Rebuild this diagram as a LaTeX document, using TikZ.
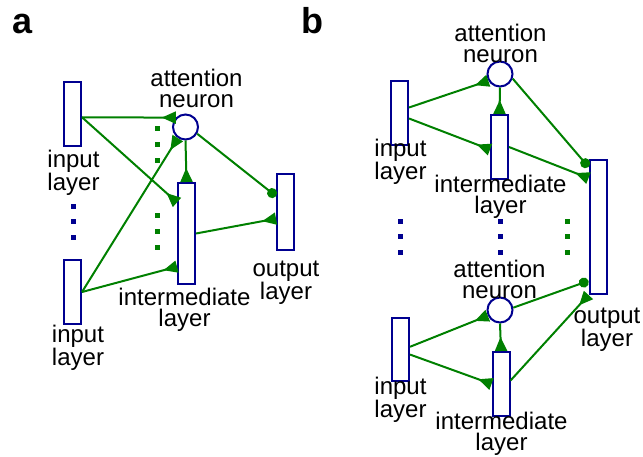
\documentclass[tikz,border=0pt]{standalone}
\usepackage{fontspec}
\setmainfont{Liberation Sans}
\usetikzlibrary{arrows.meta}
\definecolor{unit}{HTML}{000090}
\definecolor{wire}{HTML}{008000}

\begin{document}
\begin{tikzpicture}[x=1pt,y=-1pt,
 layer/.style={draw=unit,fill=white,line width=2pt,minimum width=17pt,inner sep=0pt},
 neuron/.style={circle,draw=unit,fill=white,line width=2pt,minimum size=25pt,inner sep=0pt},
 caption/.style={align=center,inner sep=0pt,font=\fontsize{24}{21}\selectfont},
 panel/.style={anchor=base west,inner sep=0pt,font=\fontsize{36}{36}\selectfont\bfseries},
 synapse/.style={-{Triangle[reversed,length=14pt,width=12pt]},draw=wire,line width=2pt},
 gating/.style={-{Circle[length=10pt]},draw=wire,line width=2pt}
]
\useasboundingbox (0,0) rectangle (643,457);
\node[panel] (taga) at (12,34) {a};
\node[layer,minimum height=64pt] (ina1) at (72.5,114) {};
\node[caption] (capina1) at (73.5,173) {input\\layer};
\node[layer,minimum height=64pt] (ina2) at (72.5,292) {};
\node[caption] (capina2) at (78,348) {input\\layer};
\node[neuron] (atta) at (185.5,127) {};
\node[caption] (capatta) at (196.5,88.5) {attention\\neuron};
\node[layer,minimum height=101pt] (mida) at (186.5,233.5) {};
\node[caption] (capmida) at (184.5,310) {intermediate\\layer};
\node[layer,minimum height=76pt] (outa) at (285.5,212) {};
\node[caption] (capouta) at (286,282.5) {output\\layer};
\draw[synapse] (ina1.-19) -- (atta.136);
\draw[synapse] (ina1.-19) -- (mida.107);
\draw[synapse] (ina2.east) -- (atta.235);
\draw[synapse] (ina2.east) -- (mida.254);
\draw[synapse] (atta.south) -- (mida.north);
\draw[gating] (atta.-30) -- (outa.121);
\draw[synapse] (mida.east) -- (outa.215);
\foreach \y in {207,222,238}
 \fill[unit] (70.5,\y-2.5) rectangle ++(5,5);
\foreach \y in {129,145,161,216,232,248}
 \fill[wire] (154.5,\y-2.5) rectangle ++(5,5);

\node[panel] (tagb) at (301,34) {b};
\node[neuron] (attb1) at (500,74) {};
\node[caption] (capattb1) at (500.5,43) {attention\\neuron};
\node[layer,minimum height=64pt] (inb1) at (399.5,113) {};
\node[caption] (capinb1) at (400.5,161.5) {input\\layer};
\node[layer,minimum height=64pt] (midb1) at (499.5,147) {};
\node[caption] (capmidb1) at (500.5,197) {intermediate\\layer};
\node[layer,minimum height=134pt] (outb) at (598,227) {};
\node[caption] (capoutb) at (607,329.5) {output\\layer};
\node[neuron] (attb2) at (500,310) {};
\node[caption] (capattb2) at (499.5,279) {attention\\neuron};
\node[layer,minimum height=63pt] (inb2) at (400.5,349.5) {};
\node[caption] (capinb2) at (400.5,400) {input\\layer};
\node[layer,minimum height=64pt] (midb2) at (501,384) {};
\node[caption] (capmidb2) at (501.5,433.5) {intermediate\\layer};
\draw[synapse] (inb1.30) -- (attb1.210);
\draw[synapse] (inb1.-30) -- (midb1.195);
\draw[synapse] (attb1.south) -- (midb1.north);
\draw[gating] (attb1.-20) -- (outb.99);
\draw[synapse] (midb1.east) -- (outb.101);
\draw[synapse] (inb2.16) -- (attb2.205);
\draw[synapse] (inb2.-28) -- (midb2.west);
\draw[synapse] (attb2.south) -- (midb2.north);
\draw[gating] (attb2.10) -- (outb.260);
\draw[synapse] (midb2.20) -- (outb.south west);
\foreach \x in {400,500}
 \foreach \y in {222,237,253}
  \fill[unit] (\x-2.5,\y-2.5) rectangle ++(5,5);
\foreach \y in {222,237,253}
 \fill[wire] (564.5,\y-2.5) rectangle ++(5,5);
\end{tikzpicture}
\end{document}
